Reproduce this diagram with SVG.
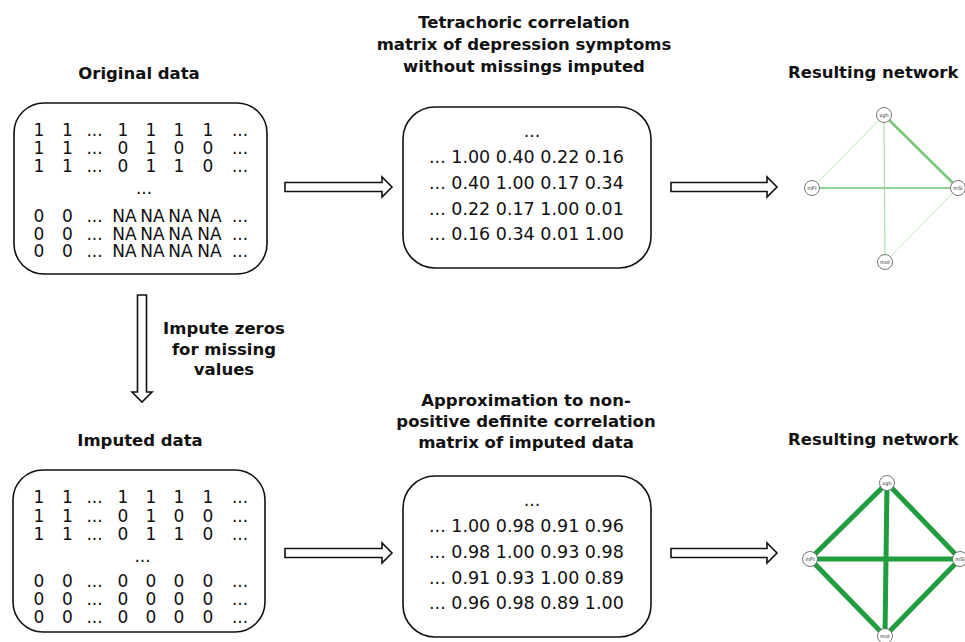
<svg xmlns="http://www.w3.org/2000/svg" width="965" height="642" viewBox="0 0 965 642">
<style>
  .title{font-family:"DejaVu Sans",Verdana,sans-serif;font-weight:bold;font-size:16.5px;fill:#111;}
  .cell{font-family:"DejaVu Sans",Verdana,sans-serif;font-size:17px;fill:#111;text-anchor:middle;}
  .mat{font-family:"DejaVu Sans",Verdana,sans-serif;font-size:17.5px;fill:#111;}
  .box{fill:#fff;stroke:#111;stroke-width:1.6;}
  .arrow{fill:#fff;stroke:#111;stroke-width:1.6;stroke-linejoin:miter;}
  .nd{fill:#fff;stroke:#666;stroke-width:0.9;}
  .nl{font-family:"DejaVu Sans",Verdana,sans-serif;font-size:5px;fill:#333;text-anchor:middle;}
  .thick{stroke:#1f9d3f;stroke-width:5;}
</style>
<rect width="965" height="642" fill="#fff"/>

<!-- Titles -->
<g id="titles">
  <text class="title" x="139" y="79" text-anchor="middle">Original data</text>
  <text class="title" x="524" y="28" text-anchor="middle">Tetrachoric correlation</text>
  <text class="title" x="524" y="50" text-anchor="middle">matrix of depression symptoms</text>
  <text class="title" x="524" y="72" text-anchor="middle">without missings imputed</text>
  <text class="title" x="788" y="78">Resulting network</text>
  <text class="title" x="140" y="446" text-anchor="middle">Imputed data</text>
  <text class="title" x="526" y="406" text-anchor="middle">Approximation to non-</text>
  <text class="title" x="526" y="427" text-anchor="middle">positive definite correlation</text>
  <text class="title" x="526" y="448" text-anchor="middle">matrix of imputed data</text>
  <text class="title" x="788" y="445">Resulting network</text>
  <text class="title" x="224" y="334" text-anchor="middle">Impute zeros</text>
  <text class="title" x="224" y="354.5" text-anchor="middle">for missing</text>
  <text class="title" x="224" y="375" text-anchor="middle">values</text>
</g>

<!-- Original data box -->
<g id="original-data">
  <rect class="box" x="14" y="103" width="253" height="171" rx="30" ry="30"/>
  <text class="cell" y="136"><tspan x="39">1</tspan><tspan x="67.5">1</tspan><tspan x="94.5">...</tspan><tspan x="123">1</tspan><tspan x="151">1</tspan><tspan x="179">1</tspan><tspan x="208">1</tspan><tspan x="240">...</tspan></text>
  <text class="cell" y="154"><tspan x="39">1</tspan><tspan x="67.5">1</tspan><tspan x="94.5">...</tspan><tspan x="123">0</tspan><tspan x="151">1</tspan><tspan x="179">0</tspan><tspan x="208">0</tspan><tspan x="240">...</tspan></text>
  <text class="cell" y="172"><tspan x="39">1</tspan><tspan x="67.5">1</tspan><tspan x="94.5">...</tspan><tspan x="123">0</tspan><tspan x="151">1</tspan><tspan x="179">1</tspan><tspan x="208">0</tspan><tspan x="240">...</tspan></text>
  <text class="cell" x="144" y="194">...</text>
  <text class="cell" y="222"><tspan x="39">0</tspan><tspan x="67.5">0</tspan><tspan x="94.5">...</tspan><tspan x="124.5">NA</tspan><tspan x="152.5">NA</tspan><tspan x="180.5">NA</tspan><tspan x="209.5">NA</tspan><tspan x="240">...</tspan></text>
  <text class="cell" y="240"><tspan x="39">0</tspan><tspan x="67.5">0</tspan><tspan x="94.5">...</tspan><tspan x="124.5">NA</tspan><tspan x="152.5">NA</tspan><tspan x="180.5">NA</tspan><tspan x="209.5">NA</tspan><tspan x="240">...</tspan></text>
  <text class="cell" y="257"><tspan x="39">0</tspan><tspan x="67.5">0</tspan><tspan x="94.5">...</tspan><tspan x="124.5">NA</tspan><tspan x="152.5">NA</tspan><tspan x="180.5">NA</tspan><tspan x="209.5">NA</tspan><tspan x="240">...</tspan></text>
</g>

<!-- Imputed data box -->
<g id="imputed-data">
  <rect class="box" x="13" y="470" width="252" height="162" rx="30" ry="30"/>
  <text class="cell" y="503"><tspan x="39">1</tspan><tspan x="67.5">1</tspan><tspan x="94.5">...</tspan><tspan x="123">1</tspan><tspan x="151">1</tspan><tspan x="179">1</tspan><tspan x="208">1</tspan><tspan x="240">...</tspan></text>
  <text class="cell" y="522"><tspan x="39">1</tspan><tspan x="67.5">1</tspan><tspan x="94.5">...</tspan><tspan x="123">0</tspan><tspan x="151">1</tspan><tspan x="179">0</tspan><tspan x="208">0</tspan><tspan x="240">...</tspan></text>
  <text class="cell" y="540"><tspan x="39">1</tspan><tspan x="67.5">1</tspan><tspan x="94.5">...</tspan><tspan x="123">0</tspan><tspan x="151">1</tspan><tspan x="179">1</tspan><tspan x="208">0</tspan><tspan x="240">...</tspan></text>
  <text class="cell" x="142.5" y="562">...</text>
  <text class="cell" y="587"><tspan x="39">0</tspan><tspan x="67.5">0</tspan><tspan x="94.5">...</tspan><tspan x="123">0</tspan><tspan x="151">0</tspan><tspan x="179">0</tspan><tspan x="208">0</tspan><tspan x="240">...</tspan></text>
  <text class="cell" y="605"><tspan x="39">0</tspan><tspan x="67.5">0</tspan><tspan x="94.5">...</tspan><tspan x="123">0</tspan><tspan x="151">0</tspan><tspan x="179">0</tspan><tspan x="208">0</tspan><tspan x="240">...</tspan></text>
  <text class="cell" y="623"><tspan x="39">0</tspan><tspan x="67.5">0</tspan><tspan x="94.5">...</tspan><tspan x="123">0</tspan><tspan x="151">0</tspan><tspan x="179">0</tspan><tspan x="208">0</tspan><tspan x="240">...</tspan></text>
</g>

<!-- Tetrachoric matrix box -->
<g id="tetrachoric-matrix">
  <rect class="box" x="403" y="107" width="248" height="161" rx="32" ry="32"/>
  <text class="mat" x="532" y="137" text-anchor="middle">...</text>
  <text class="mat" x="429" y="163">... 1.00 0.40 0.22 0.16</text>
  <text class="mat" x="429" y="189">... 0.40 1.00 0.17 0.34</text>
  <text class="mat" x="429" y="215">... 0.22 0.17 1.00 0.01</text>
  <text class="mat" x="429" y="240">... 0.16 0.34 0.01 1.00</text>
</g>

<!-- Approximated matrix box -->
<g id="approx-matrix">
  <rect class="box" x="403" y="476" width="248" height="161" rx="32" ry="32"/>
  <text class="mat" x="532" y="506" text-anchor="middle">...</text>
  <text class="mat" x="429" y="532">... 1.00 0.98 0.91 0.96</text>
  <text class="mat" x="429" y="558">... 0.98 1.00 0.93 0.98</text>
  <text class="mat" x="429" y="584">... 0.91 0.93 1.00 0.89</text>
  <text class="mat" x="429" y="609">... 0.96 0.98 0.89 1.00</text>
</g>

<!-- Connectors -->
<g id="connectors">
  <path class="arrow" d="M285,182.5 H382 V177 L392,187 L382,197 V191.5 H285 Z"/>
  <path class="arrow" d="M671,182.5 H767 V177 L777,187 L767,197 V191.5 H671 Z"/>
  <path class="arrow" d="M285,548.5 H382 V543 L392,553 L382,563 V557.5 H285 Z"/>
  <path class="arrow" d="M671,548.5 H767 V543 L777,553 L767,563 V557.5 H671 Z"/>
  <path class="arrow" d="M137.5,295 V392 H132 L142,402 L152,392 H146.5 V295 Z"/>
  <!-- top network edges -->
  <g id="edges-top" fill="none">
    <line x1="884" y1="115" x2="812" y2="188" stroke="#b8e6b8" stroke-width="1"/>
    <line x1="884" y1="115" x2="885" y2="262" stroke="#a9dfa9" stroke-width="1.2"/>
    <line x1="885" y1="262" x2="958" y2="188" stroke="#b8e6b8" stroke-width="1"/>
    <line x1="812" y1="188" x2="958" y2="188" stroke="#8ed38e" stroke-width="2"/>
    <line x1="884" y1="115" x2="958" y2="188" stroke="#78c878" stroke-width="2.6"/>
  </g>
  <!-- bottom network edges -->
  <g id="edges-bottom" fill="none">
    <line class="thick" x1="887" y1="483" x2="810" y2="559"/>
    <line class="thick" x1="887" y1="483" x2="960" y2="559"/>
    <line class="thick" x1="887" y1="483" x2="885" y2="636"/>
    <line class="thick" x1="810" y1="559" x2="960" y2="559"/>
    <line class="thick" x1="810" y1="559" x2="885" y2="636"/>
    <line class="thick" x1="960" y1="559" x2="885" y2="636"/>
  </g>
</g>

<!-- Top network nodes -->
<g id="top-vgh"><circle class="nd" cx="884" cy="115" r="7.5"/><text class="nl" x="884" y="116.8">vgh</text></g>
<g id="top-mFt"><circle class="nd" cx="812" cy="188" r="7.5"/><text class="nl" x="812" y="189.8">mFt</text></g>
<g id="top-mSl"><circle class="nd" cx="958" cy="188" r="7.5"/><text class="nl" x="958" y="189.8">mSl</text></g>
<g id="top-mot"><circle class="nd" cx="885" cy="262" r="7.5"/><text class="nl" x="885" y="263.8">mot</text></g>

<!-- Bottom network nodes -->
<g id="bot-vgh"><circle class="nd" cx="887" cy="483" r="7.5"/><text class="nl" x="887" y="484.8">vgh</text></g>
<g id="bot-mFt"><circle class="nd" cx="810" cy="559" r="7.5"/><text class="nl" x="810" y="560.8">mFt</text></g>
<g id="bot-mSl"><circle class="nd" cx="960" cy="559" r="7.5"/><text class="nl" x="960" y="560.8">mSl</text></g>
<g id="bot-mot"><circle class="nd" cx="885" cy="636" r="7.5"/><text class="nl" x="885" y="637.8">mot</text></g>
</svg>
